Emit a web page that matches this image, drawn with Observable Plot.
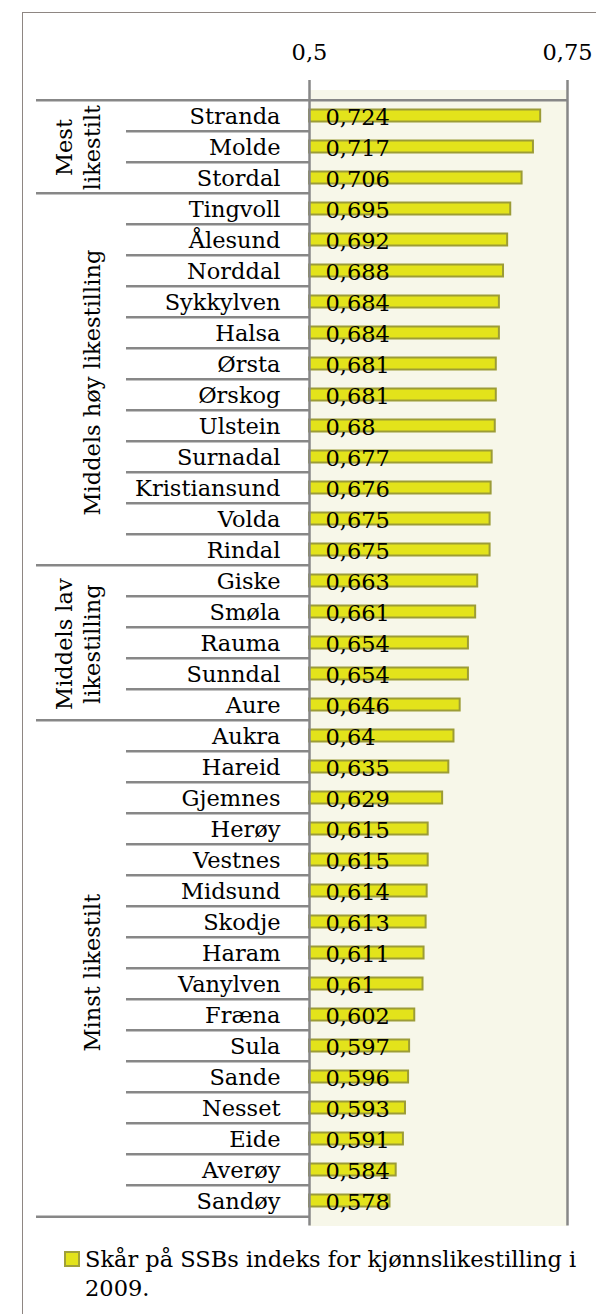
<!DOCTYPE html>
<html><head><meta charset="utf-8">
<script src="https://cdn.jsdelivr.net/npm/d3@7"></script>
<script src="https://cdn.jsdelivr.net/npm/@observablehq/plot@0.6"></script>
<style>
html,body{margin:0;padding:0;background:#fff;}
body{width:596px;height:1314px;position:relative;overflow:hidden;font-family:"DejaVu Serif",serif;}
#frame{position:absolute;left:22px;top:12px;width:800px;height:1500px;border-left:1.5px solid #8e8682;border-top:1.5px solid #8e8682;}
#chart{position:absolute;left:0;top:0;}
#legend{position:absolute;left:64px;top:1245px;display:flex;align-items:flex-start;font-size:22.5px;line-height:29px;color:#000;}
#legend .sw{width:12px;height:12px;background:#e3e31b;border:2px solid #a0a03a;margin-top:6px;margin-right:5px;flex:none;}
</style></head><body>
<div id="frame"></div>
<div id="chart"></div>
<div id="legend"><span class="sw"></span><span id="legtext"></span></div>
<script>
const names = ["Stranda","Molde","Stordal","Tingvoll","Ålesund","Norddal","Sykkylven","Halsa","Ørsta","Ørskog","Ulstein","Surnadal","Kristiansund","Volda","Rindal","Giske","Smøla","Rauma","Sunndal","Aure","Aukra","Hareid","Gjemnes","Herøy","Vestnes","Midsund","Skodje","Haram","Vanylven","Fræna","Sula","Sande","Nesset","Eide","Averøy","Sandøy"];
const values = [0.724,0.717,0.706,0.695,0.692,0.688,0.684,0.684,0.681,0.681,0.68,0.677,0.676,0.675,0.675,0.663,0.661,0.654,0.654,0.646,0.64,0.635,0.629,0.615,0.615,0.614,0.613,0.611,0.61,0.602,0.597,0.596,0.593,0.591,0.584,0.578];
const groupLabels = ["Mest\nlikestilt","Middels høy likestilling","Middels lav\nlikestilling","Minst likestilt"];
const groupSizes = [3,12,5,16];
const xTicks = [0.5,0.75];
const legendLines = ["Skår på SSBs indeks for kjønnslikestilling i","2009."];

const fmt = d => String(d).replace(".", ",");
const data = names.map((name,i)=>({name, value: values[i]}));

const W = 596, H = 1240, mTop = 89.5, mBottom = 14.5, mLeft = 309, mRight = 29;
const band = (H - mTop - mBottom) / names.length;
const innerW = W - mLeft - mRight;
const lineCol = "#878787";
const font = "DejaVu Serif";

const starts = [];
let acc = 0;
for (const n of groupSizes) { starts.push(acc); acc += n; }
const groupStartNames = starts.slice(1).map(i => names[i]);
const rowSepNames = names.filter((d,i) => !starts.includes(i));

const groupMarks = groupLabels.map((lab, g) => Plot.text([lab], {
  x: () => xTicks[0], y: () => names[starts[g]], dx: 99 - mLeft, dy: (groupSizes[g]-1)/2*band,
  text: d => d, rotate: -90, textAnchor: "middle", lineAnchor: "bottom", lineHeight: 1.22,
  fontSize: 22.5, fill: "#000"
}));

const chart = Plot.plot({
  width: W, height: H,
  marginTop: mTop, marginBottom: mBottom, marginLeft: mLeft, marginRight: mRight,
  style: {fontFamily: font, fontSize: "22.5px", color: "#000", background: "transparent", overflow: "visible"},
  x: {domain: [xTicks[0], xTicks[1]], axis: "top", ticks: xTicks, tickFormat: fmt, tickSize: 0, tickPadding: 30, label: null},
  y: {domain: names, padding: 0, axis: null},
  marks: [
    Plot.frame({fill: "#f7f7e9", stroke: "none"}),
    Plot.barX(data, {y: "name", x1: xTicks[0], x2: "value", insetTop: 9.5, insetBottom: 9.5, fill: "#e3e31b", stroke: "#9c9c36", strokeWidth: 2}),
    Plot.text(data, {y: "name", x: xTicks[0], dx: 16, dy: 2, text: d => fmt(d.value), textAnchor: "start", fill: "#000", fontSize: 22.5}),
    Plot.text(data, {y: "name", x: xTicks[0], dx: -29, dy: 1, text: "name", textAnchor: "end", fill: "#000", fontSize: 22.5}),
    Plot.ruleY(rowSepNames, {y: d => d, dy: -band/2, insetLeft: 126 - mLeft, insetRight: innerW, stroke: lineCol, strokeWidth: 2.5}),
    Plot.ruleY(groupStartNames, {y: d => d, dy: -band/2, insetLeft: 36 - mLeft, insetRight: innerW, stroke: lineCol, strokeWidth: 2.5}),
    Plot.ruleY([names[0]], {y: d => d, dy: -band/2, insetLeft: 36 - mLeft, stroke: lineCol, strokeWidth: 2.5}),
    Plot.ruleY([names[names.length-1]], {y: d => d, dy: band/2, insetLeft: 36 - mLeft, insetRight: innerW, stroke: lineCol, strokeWidth: 2.5}),
    Plot.ruleX(xTicks, {insetTop: -9.5, stroke: lineCol, strokeWidth: 2.5}),
    ...groupMarks
  ]
});
document.getElementById("chart").appendChild(chart);
document.getElementById("legtext").innerHTML = legendLines.join("<br>");
</script>
</body></html>
